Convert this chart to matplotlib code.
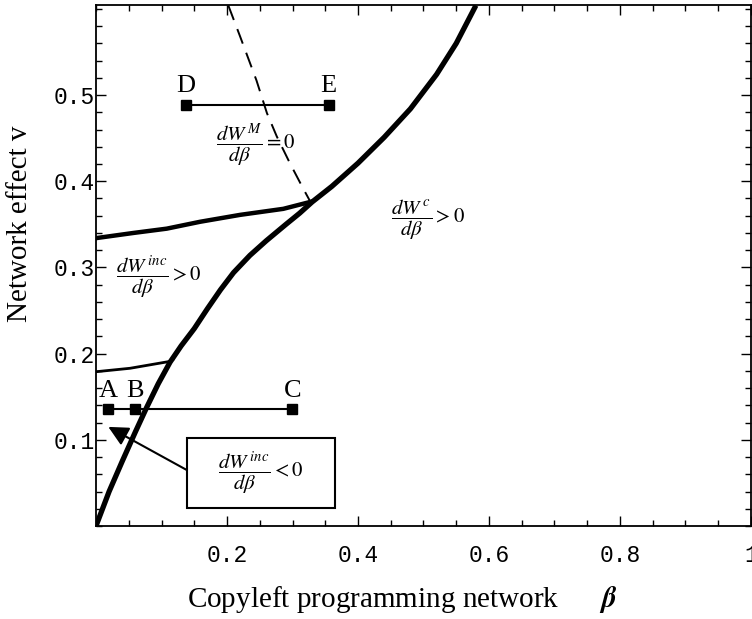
import matplotlib
matplotlib.use("Agg")
import matplotlib.pyplot as plt
from matplotlib.patches import Rectangle
from matplotlib.ticker import MultipleLocator

# boundary curves (beta, v)
main_beta = [0.0, 0.02, 0.04, 0.06, 0.077, 0.095, 0.113, 0.13, 0.15, 0.17,
             0.19, 0.21, 0.235, 0.26, 0.29, 0.311, 0.33, 0.36, 0.40, 0.44,
             0.48, 0.52, 0.55, 0.58]
main_v = [0.0, 0.040, 0.075, 0.109, 0.137, 0.165, 0.190, 0.209, 0.229, 0.252,
          0.274, 0.294, 0.314, 0.331, 0.350, 0.363, 0.376, 0.394, 0.421, 0.451,
          0.484, 0.524, 0.560, 0.604]

upper_beta = [0.0, 0.057, 0.108, 0.159, 0.220, 0.286, 0.327]
upper_v = [0.334, 0.340, 0.345, 0.353, 0.361, 0.368, 0.376]

lower_beta = [0.0, 0.052, 0.113, 0.117]
lower_v = [0.179, 0.183, 0.191, 0.193]

dash_beta = [0.202, 0.220, 0.245, 0.261, 0.276, 0.296, 0.316, 0.326]
dash_v = [0.604, 0.568, 0.517, 0.479, 0.452, 0.421, 0.392, 0.378]

# marked points
de_labels = ["D", "E"]
de_beta = [0.137, 0.355]
de_v = [0.488, 0.488]

abc_labels = ["A", "B", "C"]
abc_beta = [0.018, 0.0595, 0.300]
abc_v = [0.1357, 0.1357, 0.1357]

x_ticks = [0.2, 0.4, 0.6, 0.8, 1.0]
x_tick_labels = ["0.2", "0.4", "0.6", "0.8", "1"]
y_ticks = [0.1, 0.2, 0.3, 0.4, 0.5]
y_tick_labels = ["0.1", "0.2", "0.3", "0.4", "0.5"]

plt.rcParams["mathtext.fontset"] = "stix"
serif = "Liberation Serif"
mono = "Liberation Mono"

fig = plt.figure(figsize=(7.52, 6.19), dpi=100)
ax = fig.add_axes([96 / 752, 1 - 526 / 619, 655 / 752, 521 / 619])
ax.set_xlim(0, 1)
ax.set_ylim(0, 0.6045)

ax.plot(main_beta, main_v, color="black", lw=3.8, solid_capstyle="butt",
        solid_joinstyle="round", zorder=3)
ax.plot(upper_beta, upper_v, color="black", lw=3.2, solid_joinstyle="round", zorder=3)
ax.plot(lower_beta, lower_v, color="black", lw=2.0, zorder=3)
ax.plot(dash_beta, dash_v, color="black", lw=1.4, linestyle=(0, (8, 5)), zorder=3)

ax.plot(de_beta, de_v, color="black", lw=1.5, marker="s", ms=7, zorder=4)
ax.plot(abc_beta, abc_v, color="black", lw=1.5, marker="s", ms=7, zorder=4)
for lab, b, v in zip(de_labels, de_beta, de_v):
    ax.annotate(lab, (b, v), xytext=(0, 14), textcoords="offset points",
                ha="center", va="center", fontsize=19, family=serif)
for lab, b, v in zip(abc_labels, abc_beta, abc_v):
    ax.annotate(lab, (b, v), xytext=(0, 13), textcoords="offset points",
                ha="center", va="center", fontsize=19, family=serif)

# region labels
ax.text(0.244, 0.442, r"$\dfrac{dW^{\,M}}{d\beta}=0$", fontsize=15,
        ha="center", va="center")
ax.text(0.507, 0.355, r"$\dfrac{dW^{\,c}}{d\beta}>0$", fontsize=15,
        ha="center", va="center")
ax.text(0.096, 0.289, r"$\dfrac{dW^{\,inc}}{d\beta}>0$", fontsize=15,
        ha="center", va="center")

# boxed label with arrow
box_x0, box_x1 = 0.1385, 0.365
box_y0, box_y1 = 0.0205, 0.1024
ax.add_patch(Rectangle((box_x0, box_y0), box_x1 - box_x0, box_y1 - box_y0,
                       fill=False, ec="black", lw=1.5, zorder=4))
ax.text((box_x0 + box_x1) / 2, (box_y0 + box_y1) / 2,
        r"$\dfrac{dW^{\,inc}}{d\beta}<0$", fontsize=15, ha="center", va="center")
ax.annotate("", xy=(0.0188, 0.115), xytext=(box_x0, 0.065),
            arrowprops=dict(arrowstyle="-|>", mutation_scale=30, lw=1.5,
                            color="black", shrinkA=0, shrinkB=0))

# axes, ticks
for sp in ax.spines.values():
    sp.set_linewidth(1.3)
ax.set_xticks(x_ticks)
ax.set_xticklabels(x_tick_labels, family=mono, fontsize=16.5)
ax.set_yticks(y_ticks)
ax.set_yticklabels(y_tick_labels, family=mono, fontsize=16.5)
ax.xaxis.set_minor_locator(MultipleLocator(0.05))
ax.yaxis.set_minor_locator(MultipleLocator(0.02))
ax.tick_params(which="both", direction="in", top=True, right=True, width=1)
ax.tick_params(which="major", length=7)
ax.tick_params(which="minor", length=4)
ax.tick_params(axis="x", pad=13)
ax.tick_params(axis="y", pad=1)

ax.set_xlabel(r"Copyleft programming network      $\boldsymbol{\beta}$",
              family=serif, fontsize=21)
ax.xaxis.set_label_coords(0.467, -0.142)
ax.xaxis.label.set_va("center")
ax.set_ylabel("Network effect v", family=serif, fontsize=21)
ax.yaxis.set_label_coords(-0.116, 0.58)
ax.yaxis.label.set_va("center")

fig.savefig("out.png", dpi=100)
